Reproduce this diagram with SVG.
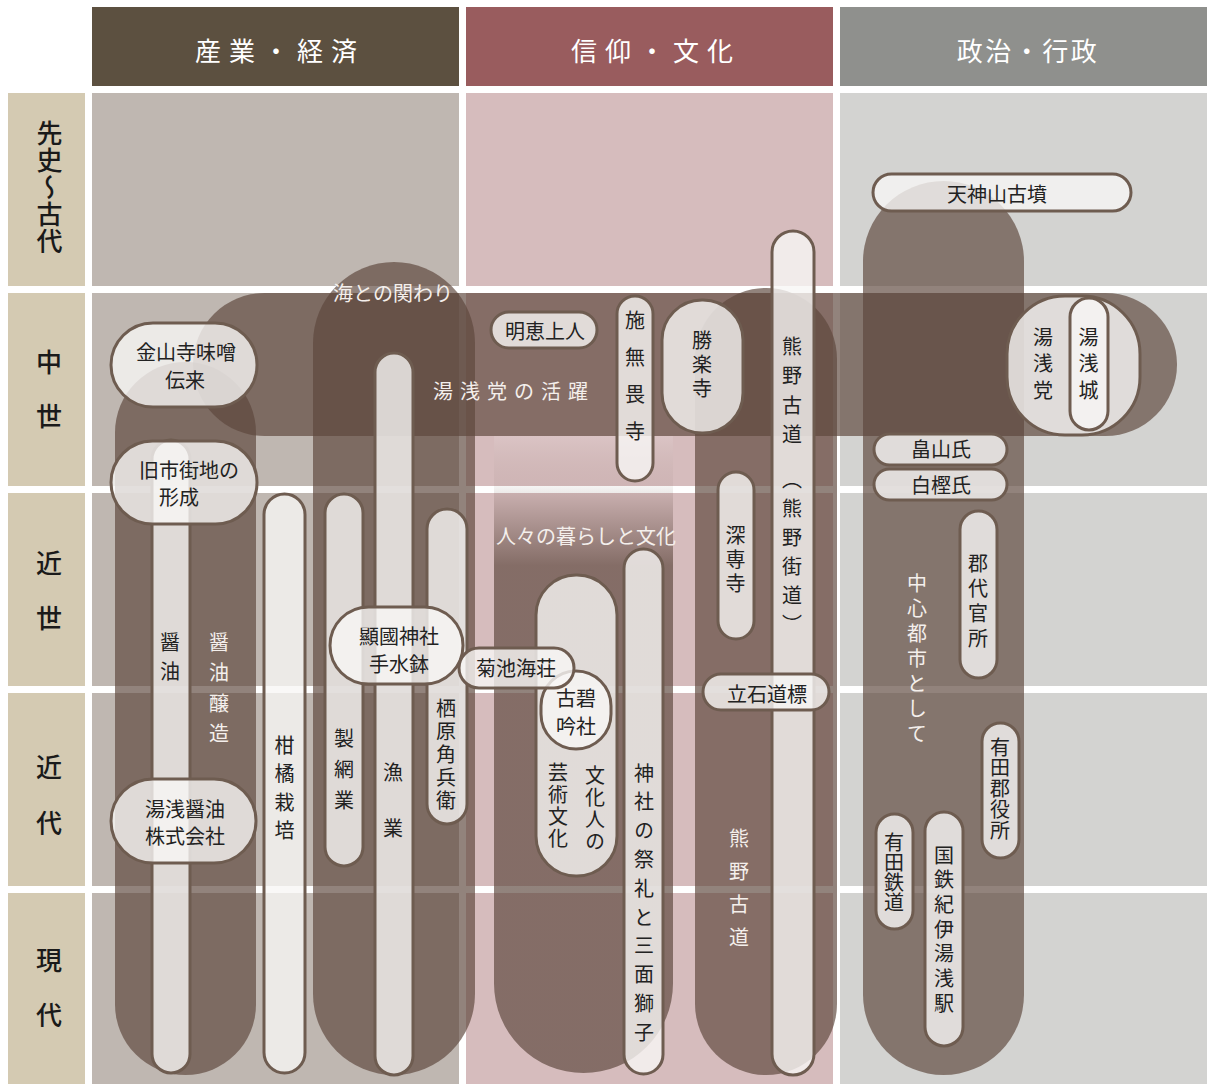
<svg xmlns="http://www.w3.org/2000/svg" width="1207" height="1084" viewBox="0 0 1207 1084">
<defs>
<style>
text{font-family:"Noto Sans CJK JP","Noto Sans CJK SC",sans-serif;}
.hd{fill:#ffffff;font-size:26px;text-anchor:middle;dominant-baseline:central;}
.rl{fill:#1a1a1a;font-size:26px;font-weight:500;writing-mode:vertical-rl;}
.rg{fill:#5c463c;fill-opacity:0.67;}
.pl{fill:#f7f6f5;fill-opacity:0.8;stroke:#6e5c50;stroke-width:3;}
.t{fill:#222222;font-size:20px;text-anchor:middle;dominant-baseline:central;}
.v{fill:#222222;font-size:20px;writing-mode:vertical-rl;}
.w{fill:#f4efec;font-size:20px;text-anchor:middle;dominant-baseline:central;}
.wv{fill:#f4efec;font-size:20px;writing-mode:vertical-rl;}
</style>
<linearGradient id="fade" gradientUnits="userSpaceOnUse" x1="0" y1="436" x2="0" y2="600">
<stop offset="0" stop-color="#ffffff" stop-opacity="0.12"/>
<stop offset="0.305" stop-color="#5c463c" stop-opacity="0.06"/>
<stop offset="0.79" stop-color="#5c463c" stop-opacity="0.67"/>
<stop offset="1" stop-color="#5c463c" stop-opacity="0.67"/>
</linearGradient>
</defs>

<g id="grid">
<rect x="92" y="7" width="367" height="79" fill="#5c5040"/>
<rect x="466" y="7" width="367" height="79" fill="#995c5e"/>
<rect x="840" y="7" width="367" height="79" fill="#8f908d"/>
<text class="hd" x="280" y="49" letter-spacing="8">産業・経済</text>
<text class="hd" x="656" y="49" letter-spacing="8">信仰・文化</text>
<text class="hd" x="1028" y="49" letter-spacing="2.5">政治・行政</text>
<g fill="#d4cab2">
<rect x="8" y="93" width="77" height="193"/>
<rect x="8" y="293" width="77" height="193"/>
<rect x="8" y="493" width="77" height="193"/>
<rect x="8" y="693" width="77" height="193"/>
<rect x="8" y="893" width="77" height="191"/>
</g>
<g fill="#bfb7b1">
<rect x="92" y="93" width="367" height="193"/>
<rect x="92" y="293" width="367" height="193"/>
<rect x="92" y="493" width="367" height="193"/>
<rect x="92" y="693" width="367" height="193"/>
<rect x="92" y="893" width="367" height="191"/>
</g>
<g fill="#d6bcbd">
<rect x="466" y="93" width="367" height="193"/>
<rect x="466" y="293" width="367" height="193"/>
<rect x="466" y="493" width="367" height="193"/>
<rect x="466" y="693" width="367" height="193"/>
<rect x="466" y="893" width="367" height="191"/>
</g>
<g fill="#d3d3d1">
<rect x="840" y="93" width="367" height="193"/>
<rect x="840" y="293" width="367" height="193"/>
<rect x="840" y="493" width="367" height="193"/>
<rect x="840" y="693" width="367" height="193"/>
<rect x="840" y="893" width="367" height="191"/>
</g>
<text class="rl" x="49.5" y="120.5" font-size="27" letter-spacing="1">先史〜古代</text>
<text class="rl" x="49" y="349" letter-spacing="28">中世</text>
<text class="rl" x="49" y="550" letter-spacing="29">近世</text>
<text class="rl" x="49" y="754" letter-spacing="30">近代</text>
<text class="rl" x="49" y="947" letter-spacing="29">現代</text>
</g>

<g id="connectors"></g>

<g id="regions">
<g id="r-shoyu-jozo"><rect class="rg" x="115" y="362" width="141" height="713" rx="70.5"/></g>
<g id="r-yuasato"><rect class="rg" x="193" y="293" width="984" height="143" rx="71.5"/></g>
<g id="r-umi"><rect class="rg" x="313" y="262" width="162" height="813" rx="81"/></g>
<g id="r-kurashi"><path d="M494,436 H673 V983.5 A89.5,89.5 0 0 1 494,983.5 Z" fill="url(#fade)"/></g>
<g id="r-kumano"><rect class="rg" x="695" y="288" width="142" height="787" rx="71"/></g>
<g id="r-chushin"><rect class="rg" x="863" y="181" width="161" height="894" rx="80.5"/></g>
</g>

<g id="region-labels">
<text class="wv" x="219" y="632" letter-spacing="10.5">醤油醸造</text>
<text class="w" x="514" y="390" letter-spacing="7">湯浅党の活躍</text>
<text class="w" x="393" y="292">海との関わり</text>
<text class="w" x="586" y="535">人々の暮らしと文化</text>
<text class="wv" x="739" y="828" letter-spacing="13">熊野古道</text>
<text class="wv" x="917" y="573" letter-spacing="5">中心都市として</text>
</g>

<g id="nodes">
<g id="n-shoyu"><rect class="pl" x="152" y="440" width="38" height="633" rx="19"/><text class="v" x="170" y="632" letter-spacing="9">醤油</text></g>
<g id="n-kinzanji"><rect class="pl" x="111" y="323" width="146" height="84" rx="42"/><text class="t" x="186" y="351">金山寺味噌</text><text class="t" x="185" y="379">伝来</text></g>
<g id="n-kyushigai"><rect class="pl" x="111" y="441" width="146" height="83" rx="41.5"/><text class="t" x="189" y="469">旧市街地の</text><text class="t" x="179" y="496">形成</text></g>
<g id="n-yuasashoyu"><rect class="pl" x="111" y="779" width="145" height="84" rx="42"/><text class="t" x="185" y="808">湯浅醤油</text><text class="t" x="185" y="835">株式会社</text></g>
<g id="n-kankitsu"><rect class="pl" x="264" y="494" width="41" height="579" rx="20.5"/><text class="v" x="284.5" y="735" letter-spacing="8.5">柑橘栽培</text></g>
<g id="n-seimo"><rect class="pl" x="325" y="494" width="38" height="372" rx="19"/><text class="v" x="344" y="728" letter-spacing="11">製網業</text></g>
<g id="n-gyogyo"><rect class="pl" x="375" y="353" width="38" height="722" rx="19"/><text class="v" x="393" y="762" letter-spacing="36">漁業</text></g>
<g id="n-suhara"><rect class="pl" x="427" y="509" width="40" height="315" rx="20"/><text class="v" x="446" y="698" letter-spacing="3">栖原角兵衛</text></g>
<g id="n-kenkoku"><rect class="pl" x="330" y="607" width="133" height="77" rx="38.5"/><text class="t" x="399" y="635" font-size="18.5">顯國神社</text><text class="t" x="399" y="663" font-size="18.5">手水鉢</text></g>
<g id="n-bunkajin"><rect class="pl" x="536" y="575" width="81" height="301" rx="40"/><text class="v" x="595" y="765" letter-spacing="2">文化人の</text><text class="v" x="558" y="762" letter-spacing="2">芸術文化</text></g>
<g id="n-kohekiginsha"><rect class="pl" x="541" y="671" width="70" height="78" rx="35"/><text class="t" x="576" y="697">古碧</text><text class="t" x="576" y="725">吟社</text></g>
<g id="n-kikuchi"><rect class="pl" x="459" y="648" width="115" height="40" rx="20"/><text class="t" x="516" y="667">菊池海荘</text></g>
<g id="n-jinja"><rect class="pl" x="624" y="549" width="39" height="525" rx="19.5"/><text class="v" x="644" y="763" letter-spacing="8.8">神社の祭礼と三面獅子</text></g>
<g id="n-myoe"><rect class="pl" x="491" y="312" width="106" height="36" rx="18"/><text class="t" x="545" y="330">明恵上人</text></g>
<g id="n-semuiji"><rect class="pl" x="617" y="296" width="36" height="185" rx="18"/><text class="v" x="635" y="310" letter-spacing="17.3">施無畏寺</text></g>
<g id="n-shorakuji"><rect class="pl" x="662" y="300" width="81" height="133" rx="40"/><text class="v" x="702" y="330" letter-spacing="4">勝楽寺</text></g>
<g id="n-kumanokodo"><rect class="pl" x="772" y="231" width="42" height="844" rx="21"/><text class="v" x="792" y="336" letter-spacing="9.5">熊野古道</text><text class="v" x="792" y="469.5" letter-spacing="9">（熊野街道）</text></g>
<g id="n-jinsenji"><rect class="pl" x="718" y="472" width="36" height="167" rx="18"/><text class="v" x="735.5" y="525" letter-spacing="4">深専寺</text></g>
<g id="n-tateishi"><rect class="pl" x="703" y="674" width="126" height="36" rx="18"/><text class="t" x="767" y="693">立石道標</text></g>
<g id="n-tenjinyama"><rect class="pl" x="873" y="174" width="258" height="37" rx="18.5"/><text class="t" x="997" y="193">天神山古墳</text></g>
<g id="n-yuasato"><rect class="pl" x="1007" y="296" width="133" height="139" rx="58"/><text class="v" x="1043" y="327" letter-spacing="6.5">湯浅党</text></g>
<g id="n-yuasajo"><rect class="pl" x="1070" y="298" width="38" height="132" rx="19"/><text class="v" x="1088.5" y="327" letter-spacing="6.5">湯浅城</text></g>
<g id="n-hatakeyama"><rect class="pl" x="874" y="434" width="133" height="31" rx="15.5"/><text class="t" x="941" y="448">畠山氏</text></g>
<g id="n-shirakashi"><rect class="pl" x="874" y="469" width="133" height="31" rx="15.5"/><text class="t" x="941" y="484">白樫氏</text></g>
<g id="n-gundaikan"><rect class="pl" x="960" y="511" width="37" height="167" rx="18.5"/><text class="v" x="978" y="553" letter-spacing="5">郡代官所</text></g>
<g id="n-aridagun"><rect class="pl" x="982" y="723" width="37" height="135" rx="18.5"/><text class="v" x="1000" y="737" letter-spacing="0.75">有田郡役所</text></g>
<g id="n-aridatetsudo"><rect class="pl" x="876" y="814" width="37" height="115" rx="18.5"/><text class="v" x="894" y="832">有田鉄道</text></g>
<g id="n-kokutetsu"><rect class="pl" x="925" y="812" width="38" height="234" rx="19"/><text class="v" x="944" y="845" letter-spacing="4.7">国鉄紀伊湯浅駅</text></g>
</g>
</svg>
